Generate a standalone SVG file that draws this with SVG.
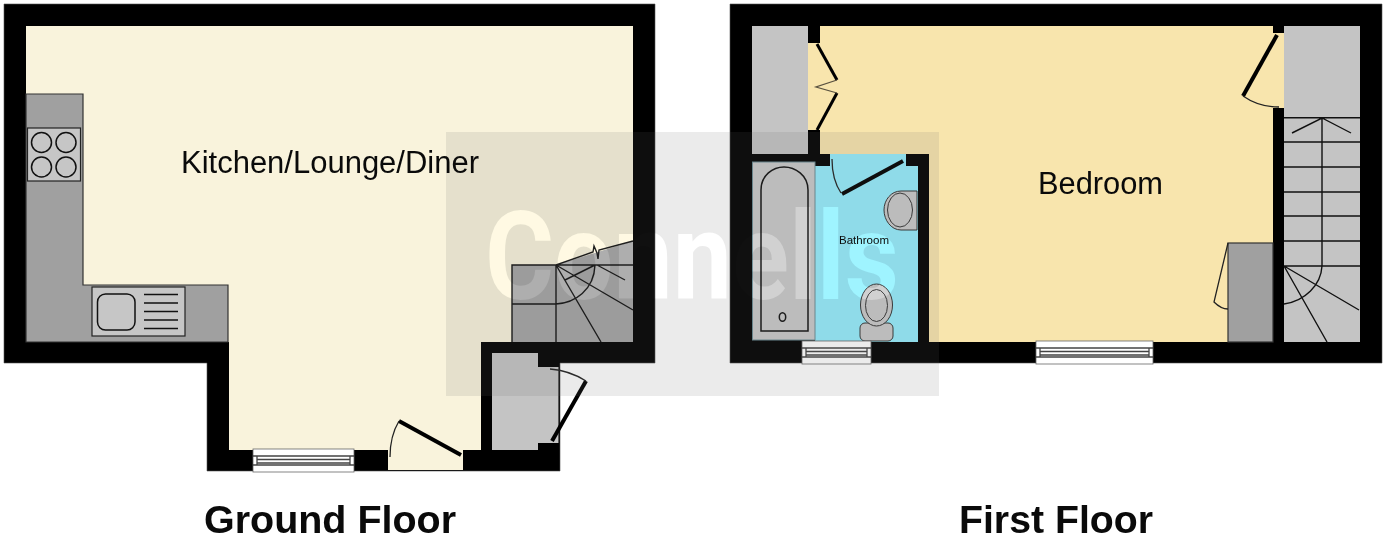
<svg xmlns="http://www.w3.org/2000/svg" width="1389" height="539" viewBox="0 0 1389 539">
<style>
text{font-family:"Liberation Sans",Arial,sans-serif;fill:#0a0a0a}
.wall{fill:#000;stroke:#555;stroke-width:.6}
.wb{fill:#000}
.kit{fill:#a0a0a0;stroke:#333;stroke-width:1.2}
.app{fill:#c6c6c6;stroke:#222;stroke-width:1.2}
.hob{fill:#c6c6c6;stroke:#111;stroke-width:1.5}
.ln{fill:none;stroke:#111;stroke-width:1.5}
.door{fill:none;stroke:#000;stroke-width:4}
.arc{fill:none;stroke:#222;stroke-width:1.3}
.st{fill:none;stroke:#111;stroke-width:1.4}
.win{fill:#fff;stroke:#666;stroke-width:.8}
.wl{fill:none;stroke:#444;stroke-width:1.3}
.san{fill:#c9c9c9;stroke:#333;stroke-width:1}
.gr{fill:#c4c4c4}
.mark{font-family:Roboto,"Liberation Sans",sans-serif;font-weight:700;font-size:122px;fill:#1a1a1a;mix-blend-mode:color-dodge}
</style>
<rect width="1389" height="539" fill="#fff"/>
<g id="ground-floor">
<path class="wall" d="M4 4H655V363H560V471H207V363H4Z"/>
<path id="kitchen-floor" fill="#f9f3dc" d="M26 26H633V342H481V450H463V470H388V450H229V342H26Z"/>
<path class="gr" d="M492 353H538V367H559V443H538V450H492Z"/>
<path d="M559 367V443" stroke="#111" stroke-width="1.2"/>
<g id="kitchen-units">
<path class="kit" d="M26 94H83V285H228V342H26Z"/>
<rect class="app" x="27.500" y="128" width="53" height="53"/>
<circle class="hob" cx="41.500" cy="142.500" r="10"/><circle class="hob" cx="66" cy="142.500" r="10"/>
<circle class="hob" cx="41.500" cy="167" r="10"/><circle class="hob" cx="66" cy="167" r="10"/>
<rect class="app" x="92" y="287" width="93" height="49"/>
<rect class="hob" x="97.500" y="294" width="37.500" height="36" rx="8"/>
<path class="ln" d="M144 294.500H178M144 303H178M144 311.500H178M144 320H178M144 328.500H178"/>
</g>
<g id="ground-stairs">
<path fill="#a4a4a4" d="M512 265H556L633 241V342H512Z"/>
<path class="st" d="M512 342V265H556L593 252L594 246L597 253L598 259L599 250L633 241M556 265H633M512 304H556C575 303 594 290 595 265M556 265V342M556 265L633 310M556 265L601 342M565 280L595 265M597 265L625 280"/>
</g>
<g id="ground-doors">
<path class="door" d="M399 421L461 455"/>
<path class="arc" d="M390 457C390 444 393 431 399 421"/>
<path class="door" d="M586 381L552 441"/>
<path class="arc" d="M550 369C563 370 575 374 586 381"/>
</g>
<g id="ground-window">
<rect class="win" x="253" y="449" width="101" height="23"/>
<path class="wl" d="M253 456H354M253 465H354M257 456V465M350 456V465M257 459.500H350M257 463H350"/>
</g>
</g>
<g id="first-floor">
<path class="wall" d="M730 4H1382V363H730Z"/>
<path id="bedroom-floor" fill="#f8e5ad" d="M808 26H1273V33H1284V108H1273V342H929V154H808Z"/>
<rect class="wb" x="808" y="26" width="12" height="17"/>
<rect class="wb" x="808" y="130" width="12" height="30"/>
<rect class="gr" x="752" y="26" width="56" height="128"/>
<rect class="gr" x="1284" y="26" width="76" height="316"/>
<path id="bathroom-floor" fill="#95edfd" d="M815 166H830V154H906V166H918V342H815Z"/>
<rect class="wb" x="815" y="154" width="15" height="12"/>
<rect class="wb" x="906" y="154" width="23" height="11"/>
<rect class="wb" x="918" y="154" width="11" height="188"/>
<g id="bath">
<rect fill="#c9c9c9" stroke="#6a8a92" stroke-width="1" x="752.500" y="162" width="62.500" height="178"/>
<path class="ln" d="M761 331V190C761 175 773 167 784 167C795 167 808 175 808 190V331Z"/>
<ellipse class="ln" cx="782.500" cy="317" rx="3.200" ry="4.300"/>
</g>
<g id="basin">
<path class="san" d="M917 191H901C891 191 884 200 884 210C884 220 891 230 901 230H917Z"/>
<ellipse class="san" cx="900" cy="210" rx="12.500" ry="17"/>
</g>
<g id="toilet">
<rect class="san" x="860" y="323" width="33" height="18" rx="5"/>
<ellipse class="san" cx="876.500" cy="305" rx="16" ry="21"/>
<ellipse class="san" cx="876.500" cy="305.500" rx="11" ry="16"/>
</g>
<rect id="built-in" class="kit" x="1228" y="243" width="45" height="99"/>
<g id="first-stairs">
<path class="st" d="M1284 117.700H1360M1284 142H1360M1284 167H1360M1284 192H1360M1284 216H1360M1284 241H1360M1284 266H1360M1322 118V266C1321 285 1305 301 1284 304M1292 133L1322 118L1351 133M1284 266L1359 310M1284 266L1327 342"/>
</g>
<g id="first-doors">
<path d="M817 44L837 80" fill="none" stroke="#000" stroke-width="3"/>
<path d="M837 93L817 130" fill="none" stroke="#000" stroke-width="3"/>
<path d="M837 80L816 87L837 93" fill="none" stroke="#5a5240" stroke-width="1.300"/>
<path class="door" d="M903 161L842 194"/>
<path class="arc" d="M832 159C832 172 835 184 841 193"/>
<path class="door" d="M1277 35L1243 96"/>
<path class="arc" d="M1243 96C1253 103 1266 107 1279 107"/>
<path class="arc" d="M1228 243L1214 302C1218 306 1223 309 1228 309"/>
</g>
<g id="first-windows">
<rect class="win" x="802" y="341" width="69" height="23"/>
<path class="wl" d="M802 348H871M802 357H871M806 348V357M867 348V357M806 351.500H867M806 355H867"/>
<rect class="win" x="1036" y="341" width="117" height="23"/>
<path class="wl" d="M1036 348H1153M1036 357H1153M1040 348V357M1149 348V357M1040 351.500H1149M1040 355H1149"/>
</g>
</g>
<g id="watermark">
<rect x="446" y="132" width="493" height="264" fill="#666" fill-opacity=".135"/>
<text class="mark" x="485" y="299" textLength="414" lengthAdjust="spacingAndGlyphs">Connells</text>
</g>
<g id="labels">
<text x="181" y="173" font-size="31" textLength="298" lengthAdjust="spacingAndGlyphs">Kitchen/Lounge/Diner</text>
<text x="1038" y="194" font-size="31" textLength="125" lengthAdjust="spacingAndGlyphs">Bedroom</text>
<text x="839" y="244" font-size="11" textLength="50" lengthAdjust="spacingAndGlyphs">Bathroom</text>
<text x="204" y="533" font-size="39.400" font-weight="700" textLength="252" lengthAdjust="spacingAndGlyphs">Ground Floor</text>
<text x="959" y="533" font-size="39.400" font-weight="700" textLength="194" lengthAdjust="spacingAndGlyphs">First Floor</text>
</g>
</svg>
